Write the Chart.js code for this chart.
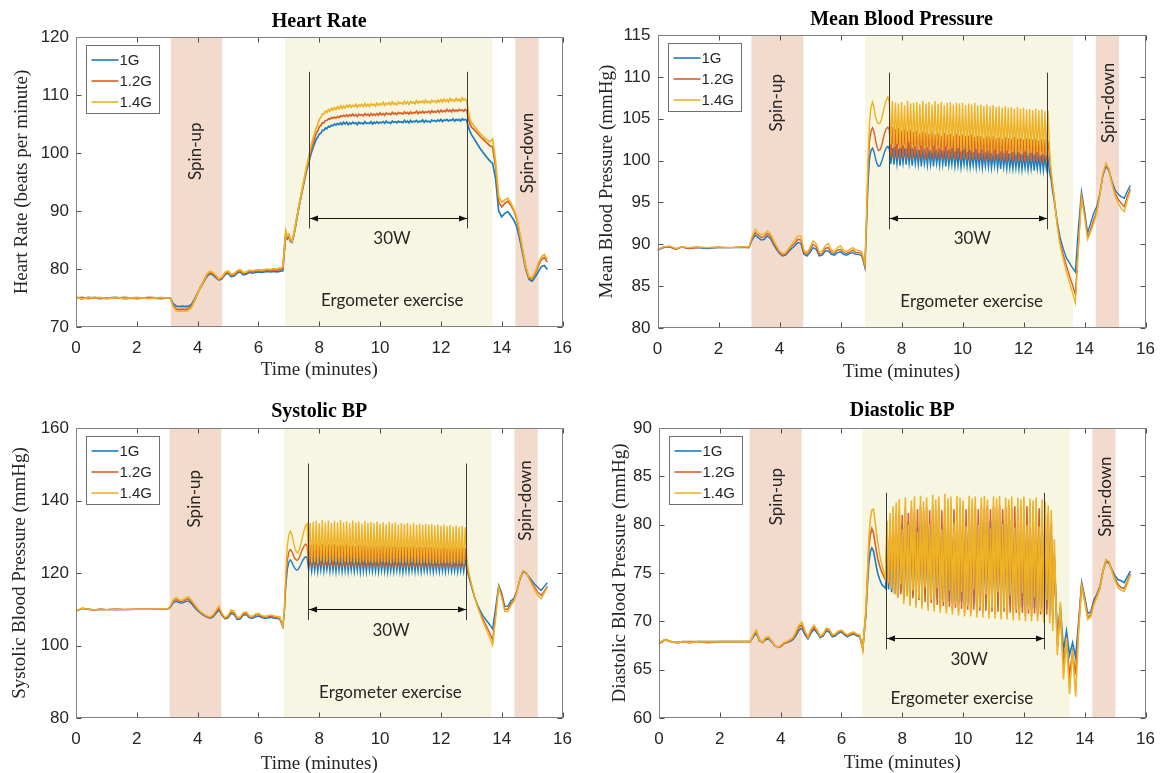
<!DOCTYPE html>
<html><head><meta charset="utf-8">
<script src="https://cdn.jsdelivr.net/npm/chart.js@4.4.1/dist/chart.umd.min.js"></script>
<style>
html,body{margin:0;padding:0;background:#fff;}
body{width:1166px;height:773px;position:relative;overflow:hidden;}
canvas{position:absolute;}
#warn{position:absolute;left:400px;top:380px;color:red;font:14px sans-serif;}
</style></head><body>
<canvas id="c1" width="583" height="386" style="left:0;top:0"></canvas>
<canvas id="c2" width="583" height="386" style="left:583px;top:0"></canvas>
<canvas id="c3" width="583" height="387" style="left:0;top:386px"></canvas>
<canvas id="c4" width="583" height="387" style="left:583px;top:386px"></canvas>
<div id="warn"></div>
<script>
// ---------- DATA ----------
const seriesLabels = ['1G','1.2G','1.4G'];
const xTicks = [0,2,4,6,8,10,12,14,16];
const hrTicks = [70,80,90,100,110,120];
const mbpTicks = [80,85,90,95,100,105,110,115];
const sbpTicks = [80,100,120,140,160];
const dbpTicks = [60,65,70,75,80,85,90];

const time = [
0,0.2,0.4,0.6,0.8,1,1.3,1.6,2,2.4,2.8,3,
3.1,3.2,3.3,3.4,3.5,3.6,3.7,3.8,3.9,4,4.1,4.2,4.3,4.4,4.5,4.6,4.7,4.8,4.9,5,5.1,5.2,5.3,5.4,5.5,5.6,5.7,5.8,5.9,6,6.1,6.2,6.3,6.4,6.5,6.6,6.7,6.8,
6.85,6.9,6.95,7,7.05,7.1,7.15,7.2,7.25,7.3,7.35,7.4,7.45,7.5,7.55,7.6,7.65,7.7,7.75,7.8,
7.85,7.9,7.95,8,8.05,8.1,8.15,8.2,8.25,8.3,8.35,8.4,8.45,8.5,8.55,8.6,8.65,8.7,8.75,8.8,
8.85,8.9,8.95,9,9.05,9.1,9.15,9.2,9.25,9.3,9.35,9.4,9.45,9.5,9.55,9.6,9.65,9.7,9.75,9.8,
9.85,9.9,9.95,10,10.05,10.1,10.15,10.2,10.25,10.3,10.35,10.4,10.45,10.5,10.55,10.6,10.65,10.7,10.75,10.8,
10.85,10.9,10.95,11,11.05,11.1,11.15,11.2,11.25,11.3,11.35,11.4,11.45,11.5,11.55,11.6,11.65,11.7,11.75,11.8,
11.85,11.9,11.95,12,12.05,12.1,12.15,12.2,12.25,12.3,12.35,12.4,12.45,12.5,12.55,12.6,12.65,12.7,12.75,12.8,
12.85,12.9,12.95,13,
13.1,13.2,13.3,13.4,13.5,13.6,13.7,13.8,13.9,14,14.1,14.2,14.3,14.4,14.5,14.6,14.7,14.8,14.9,15,15.1,15.2,15.3,15.4,15.5
];

const hr1 = [
75.1,74.9,75.1,75.0,74.9,75.0,75.1,74.9,75.0,75.0,74.9,75.0,
75.0,74.0,73.6,73.5,73.6,73.5,73.6,73.9,74.8,75.9,76.9,77.8,78.7,79.2,79.0,78.5,78.1,78.3,79.0,79.3,78.7,78.8,79.3,79.5,79.0,79.1,79.4,79.3,79.4,79.5,79.4,79.5,79.6,79.5,79.6,79.5,79.6,79.7,
83.0,86.0,85.2,85.6,84.8,84.6,85.5,86.8,88.3,89.8,91.2,92.5,93.8,95.0,96.2,97.3,98.3,99.3,100.2,101.0,
101.7,102.4,102.7,103.3,103.4,103.9,103.9,104.3,104.2,104.6,104.5,104.8,104.7,105.0,104.8,105.1,104.9,105.2,104.9,105.3,
105.0,105.3,104.9,105.2,105.0,105.3,105.1,105.2,104.9,105.3,105.1,105.2,105.0,105.4,105.1,105.2,105.1,105.4,105.0,105.3,
105.1,105.4,105.1,105.3,105.2,105.4,105.1,105.5,105.2,105.3,105.1,105.5,105.3,105.4,105.2,105.5,105.3,105.4,105.2,105.6,
105.3,105.5,105.2,105.6,105.3,105.5,105.4,105.6,105.3,105.5,105.4,105.7,105.3,105.6,105.4,105.5,105.3,105.7,105.5,105.6,
105.4,105.7,105.5,105.8,105.4,105.7,105.6,105.8,105.5,105.7,105.6,105.9,105.5,105.8,105.6,105.8,105.5,105.9,105.7,105.8,
105.6,104.5,103.8,103.2,
102.4,101.5,100.7,100.0,99.3,98.7,98.2,95.5,90.0,89.0,89.6,89.9,89.2,88.4,87.2,85.0,82.3,79.8,78.2,77.9,78.6,79.5,80.4,80.6,79.9
];
const hr12 = [
75.0,75.1,74.9,75.1,75.0,74.9,75.0,75.1,74.9,75.1,75.0,75.0,
75.0,73.7,73.1,73.0,73.1,73.0,73.2,73.6,74.6,75.8,76.9,77.9,78.9,79.4,79.2,78.7,78.2,78.5,79.2,79.5,78.9,79.0,79.5,79.7,79.2,79.3,79.6,79.5,79.6,79.7,79.6,79.7,79.8,79.7,79.8,79.8,79.9,80.0,
83.2,86.3,85.4,85.8,85.0,84.7,85.6,86.9,88.4,89.9,91.3,92.6,93.9,95.2,96.5,97.7,98.8,99.9,100.9,101.8,
102.6,103.4,103.8,104.5,104.7,105.2,105.2,105.6,105.6,105.9,105.8,106.1,106.0,106.2,106.0,106.3,106.1,106.4,106.3,106.5,
106.3,106.6,106.3,106.6,106.4,106.7,106.4,106.6,106.3,106.7,106.5,106.6,106.4,106.8,106.5,106.7,106.4,106.8,106.5,106.7,
106.5,106.8,106.5,106.9,106.6,106.8,106.5,106.9,106.7,106.8,106.6,107.0,106.7,106.9,106.6,107.0,106.8,106.9,106.7,107.1,
106.8,107.0,106.7,107.1,106.8,107.0,106.9,107.2,106.8,107.1,106.9,107.2,106.9,107.1,107.0,107.2,106.9,107.3,107.0,107.2,
107.0,107.3,107.0,107.4,107.1,107.3,107.1,107.5,107.2,107.4,107.1,107.5,107.2,107.4,107.2,107.5,107.3,107.4,107.2,107.5,
107.3,106.0,105.1,104.5,
104.0,103.4,102.8,102.3,101.8,101.3,101.0,97.5,91.5,90.7,91.3,91.7,91.0,90.0,88.5,85.8,82.8,80.0,78.4,78.3,79.2,80.5,81.6,82.0,81.2
];
const hr14 = [
75.2,74.8,75.1,75.0,75.1,74.9,75.1,74.9,75.1,74.9,75.1,75.0,
75.0,73.5,72.8,72.7,72.8,72.7,72.9,73.4,74.5,75.8,77.0,78.0,79.1,79.6,79.4,78.9,78.3,78.6,79.4,79.7,79.1,79.2,79.7,79.9,79.4,79.5,79.8,79.7,79.8,79.9,79.8,79.9,80.0,79.9,80.1,80.0,80.2,80.3,
83.5,86.6,85.6,86.0,85.1,84.8,85.7,87.0,88.5,90.0,91.4,92.8,94.1,95.5,96.8,98.1,99.3,100.5,101.6,102.6,
103.5,104.4,104.9,105.8,106.1,106.7,106.7,107.2,107.0,107.5,107.2,107.7,107.4,107.8,107.5,108.0,107.6,108.1,107.7,108.1,
107.8,108.2,107.9,108.3,107.9,108.2,108.0,108.4,107.9,108.3,108.1,108.4,108.0,108.5,108.1,108.4,108.0,108.5,108.2,108.4,
108.1,108.6,108.2,108.5,108.3,108.7,108.2,108.6,108.4,108.7,108.3,108.8,108.4,108.6,108.3,108.8,108.5,108.7,108.4,108.9,
108.5,108.8,108.4,108.9,108.6,108.8,108.5,109.0,108.6,108.9,108.7,109.0,108.6,109.1,108.7,108.9,108.6,109.1,108.8,109.0,
108.7,109.1,108.8,109.2,108.8,109.3,108.9,109.2,108.8,109.4,109.0,109.2,108.9,109.4,109.0,109.3,108.9,109.5,109.1,109.3,
109.0,107.3,106.0,105.3,
104.6,103.9,103.3,102.8,102.3,101.9,102.4,98.5,92.5,91.5,91.9,92.2,91.4,90.3,88.8,86.0,83.0,80.2,78.6,78.5,79.5,80.9,82.1,82.5,81.7
];

const mbp1 = [
89.3,89.6,89.7,89.4,89.7,89.5,89.6,89.5,89.6,89.6,89.6,89.6,
90.5,91.1,90.8,90.5,90.6,91.0,90.7,90.0,89.4,88.9,88.6,88.7,89.1,89.5,89.8,90.2,90.1,88.8,88.6,89.0,89.6,89.4,88.6,88.7,89.2,89.2,88.8,88.7,89.0,89.1,88.8,88.7,88.9,89.0,88.8,88.8,88.6,87.2,
92.0,97.0,100.2,101.2,101.5,101.0,100.2,99.6,99.3,99.4,99.9,100.5,101.1,101.5,101.7,101.4,99.6,101.5,99.5,101.3,
99.6,101.4,99.4,101.2,99.7,101.5,99.5,101.3,99.6,101.2,99.4,101.4,99.6,101.1,99.5,101.3,99.3,101.2,99.6,101.0,
99.4,101.3,99.5,101.1,99.3,101.2,99.6,101.0,99.4,101.3,99.5,101.1,99.3,101.2,99.4,100.9,99.5,101.2,99.3,101.0,
99.4,101.1,99.2,100.9,99.5,101.2,99.3,101.0,99.2,100.8,99.4,101.1,99.2,100.9,99.3,101.0,99.1,100.8,99.3,101.0,
99.2,100.9,99.1,100.7,99.3,101.0,99.1,100.8,99.0,100.9,99.2,100.7,99.0,100.9,99.1,100.6,99.0,100.8,99.1,100.7,
99.0,100.8,98.9,100.6,99.1,100.7,98.9,100.5,99.0,100.7,98.8,100.6,99.0,100.5,98.9,100.7,98.8,100.5,99.0,100.4,
98.6,97.8,96.4,95.3,
92.8,90.8,89.5,88.4,87.8,87.2,86.7,92.0,96.3,94.0,91.4,92.5,93.7,94.5,96.0,98.2,99.3,98.8,97.5,96.5,96.0,95.7,95.5,96.3,97.0
];
const mbp12 = [
89.3,89.7,89.7,89.4,89.7,89.5,89.6,89.6,89.6,89.6,89.7,89.6,
90.7,91.4,91.1,90.8,90.9,91.3,91.0,90.2,89.6,89.0,88.7,88.8,89.3,89.8,90.1,90.6,90.5,89.0,88.8,89.3,90.0,89.7,88.8,88.9,89.5,89.6,89.0,88.9,89.3,89.4,89.0,88.9,89.1,89.3,89.0,89.0,88.9,87.4,
92.5,98.5,102.3,103.5,103.9,103.4,102.4,101.6,101.2,101.3,101.8,102.6,103.3,103.8,104.0,103.7,100.4,104.0,100.2,103.8,
100.3,103.9,100.1,103.6,100.4,103.8,100.2,103.5,100.3,103.7,100.1,103.4,100.4,103.6,100.2,103.3,100.3,103.5,100.1,103.4,
100.2,103.2,100.4,103.4,100.1,103.1,100.3,103.3,100.2,103.0,100.1,103.3,100.3,103.1,100.0,103.2,100.2,102.9,100.1,103.2,
100.2,103.0,100.0,103.1,100.2,102.9,100.1,103.0,99.9,103.1,100.1,102.8,100.2,103.0,100.0,102.9,100.1,102.7,99.9,103.0,
100.1,102.8,99.9,102.9,100.0,102.7,100.1,102.8,99.9,102.6,100.0,102.8,99.8,102.7,100.0,102.6,99.9,102.8,99.8,102.6,
100.0,102.7,99.8,102.5,99.9,102.7,99.8,102.6,100.0,102.5,99.8,102.6,99.9,102.4,99.8,102.6,99.7,102.5,99.9,102.4,
100.5,98.5,97.0,95.8,
92.5,90.2,88.8,87.5,86.3,85.2,84.0,90.0,95.8,93.6,90.8,91.8,92.9,94.0,95.9,98.3,99.5,98.9,97.3,96.1,95.4,94.9,94.5,95.7,96.6
];
const mbp14 = [
89.4,89.7,89.8,89.5,89.7,89.6,89.7,89.6,89.7,89.6,89.7,89.7,
90.9,91.8,91.4,91.1,91.2,91.6,91.3,90.5,89.8,89.2,88.9,89.0,89.5,90.0,90.5,91.0,91.0,89.3,89.0,89.6,90.4,90.1,89.1,89.2,89.8,90.1,89.3,89.1,89.6,89.8,89.3,89.1,89.4,89.6,89.3,89.3,89.1,87.6,
93.0,100.0,104.5,106.4,107.0,106.3,105.2,104.6,104.4,104.5,105.0,105.8,106.6,107.2,107.6,107.0,101.9,107.1,101.6,106.9,
102.0,106.8,101.5,107.0,101.8,106.6,101.4,107.1,102.2,106.8,101.5,106.9,101.7,107.0,101.3,106.7,101.8,107.1,101.4,106.8,
101.6,107.0,101.2,106.7,101.8,107.1,101.3,106.8,101.5,107.0,101.2,106.6,101.7,106.9,101.3,107.0,101.5,106.7,101.1,106.9,
101.5,106.8,101.1,106.9,101.4,106.6,101.0,106.8,101.3,106.7,101.0,106.9,101.4,106.6,100.9,106.7,101.3,106.5,101.0,106.7,
101.2,106.5,100.9,106.6,101.3,106.4,100.8,106.5,101.1,106.3,100.9,106.5,101.2,106.3,100.8,106.4,101.0,106.2,100.7,106.4,
101.0,106.2,100.7,106.3,101.1,106.1,100.6,106.2,100.9,106.0,100.7,106.2,101.0,106.0,100.6,106.1,100.8,105.9,100.6,106.0,
101.5,99.0,97.3,95.8,
92.3,89.8,88.3,86.8,85.5,84.3,83.0,89.5,95.6,93.3,90.6,91.5,92.5,93.7,95.8,98.4,99.7,99.0,97.2,95.8,94.9,94.3,93.9,95.2,96.4
];

const sbp1 = [
109.5,110.2,110.0,109.8,110.0,109.9,110.0,109.9,110.0,110.0,110.0,110.0,
110.5,111.8,112.2,111.8,111.7,112.1,112.3,111.5,110.5,109.6,108.9,108.3,107.8,107.5,107.8,108.8,109.8,108.3,107.3,107.6,108.8,108.5,107.2,107.3,108.3,108.5,107.6,107.5,107.9,108.1,107.7,107.5,107.6,107.8,107.6,107.4,107.3,105.2,
109.0,116.5,121.0,123.0,123.6,123.0,122.0,121.2,120.8,120.9,121.6,122.5,123.4,124.0,124.5,124.2,120.8,124.4,120.5,124.3,
120.7,124.5,120.4,124.2,120.8,124.6,120.5,124.3,120.9,124.1,120.4,124.5,120.6,124.2,120.3,124.4,120.7,124.1,120.4,124.3,
120.6,124.2,120.3,124.4,120.7,124.0,120.4,124.3,120.6,124.1,120.2,124.4,120.5,124.0,120.3,124.2,120.6,123.9,120.4,124.2,
120.5,124.0,120.3,124.3,120.6,123.9,120.4,124.1,120.2,124.0,120.5,123.8,120.3,124.2,120.6,123.9,120.4,124.0,120.2,123.8,
120.5,124.1,120.3,123.9,120.6,124.0,120.4,123.8,120.5,124.1,120.3,123.9,120.6,123.7,120.4,124.0,120.5,123.8,120.3,123.9,
120.6,123.8,120.4,124.0,120.5,123.7,120.3,123.9,120.6,123.8,120.4,123.6,120.5,123.9,120.3,123.7,120.6,123.8,120.4,123.6,
121.0,119.5,118.0,116.5,
113.5,111.3,109.5,108.0,106.9,105.8,104.6,110.5,116.6,114.5,110.8,110.8,112.3,113.0,115.0,118.3,120.4,120.0,118.9,117.8,116.8,115.9,115.2,116.3,117.3
];
const sbp12 = [
109.4,110.3,110.0,109.8,110.0,109.9,110.0,109.9,110.0,110.0,110.0,110.0,
110.7,112.3,112.7,112.2,112.1,112.6,112.9,112.0,110.9,109.9,109.1,108.5,108.0,107.7,108.1,109.2,110.3,108.6,107.5,107.9,109.3,109.0,107.5,107.6,108.7,108.9,107.9,107.8,108.3,108.5,108.0,107.8,107.9,108.1,107.9,107.7,107.6,105.3,
109.2,118.0,123.5,125.8,126.5,125.9,124.8,124.0,123.5,123.6,124.4,125.5,126.6,127.4,128.0,127.6,121.8,127.8,121.5,127.9,
121.9,128.1,121.6,127.7,122.0,128.0,121.7,127.6,121.9,127.9,121.5,127.7,121.8,128.0,121.6,127.5,121.9,127.8,121.5,127.6,
121.8,127.9,121.5,127.5,121.9,127.7,121.6,127.4,121.8,127.8,121.5,127.5,121.7,127.6,121.4,127.3,121.8,127.6,121.5,127.4,
121.7,127.5,121.4,127.3,121.8,127.6,121.5,127.2,121.7,127.5,121.4,127.3,121.6,127.4,121.3,127.1,121.7,127.4,121.5,127.2,
121.6,127.3,121.4,127.1,121.7,127.4,121.5,127.0,121.6,127.3,121.3,127.1,121.6,127.2,121.4,127.0,121.7,127.2,121.4,127.0,
121.6,127.1,121.3,126.9,121.6,127.2,121.4,126.9,121.5,127.0,121.3,126.8,121.6,127.1,121.4,126.8,121.5,127.0,121.3,126.8,
122.5,120.0,118.3,116.8,
113.5,111.0,108.8,107.0,105.3,103.5,101.5,108.5,116.2,113.8,110.0,110.0,111.6,112.6,114.8,118.4,120.5,120.1,118.6,117.2,115.8,114.6,113.8,115.0,116.4
];
const sbp14 = [
109.5,110.3,110.1,109.8,110.1,109.9,110.0,110.0,110.0,110.0,110.1,110.0,
110.9,112.7,113.2,112.6,112.5,113.1,113.5,112.5,111.3,110.2,109.3,108.7,108.2,107.9,108.4,109.6,110.9,108.9,107.7,108.3,109.9,109.5,107.8,107.9,109.1,109.3,108.2,108.0,108.7,108.9,108.3,108.1,108.2,108.4,108.2,108.0,107.9,105.4,
109.5,120.0,127.5,130.5,131.5,130.6,128.5,126.8,125.8,125.6,126.6,128.2,130.0,131.7,133.0,133.6,123.2,133.8,122.8,134.1,
123.0,134.4,122.6,133.7,123.3,134.6,122.8,133.9,123.1,134.5,122.7,133.8,123.2,134.4,122.9,134.0,123.0,134.6,122.7,133.9,
123.1,134.3,122.8,133.8,123.2,134.5,122.7,133.9,123.0,134.2,122.8,133.6,123.1,134.3,122.6,133.8,123.0,134.1,122.7,133.7,
123.0,134.2,122.7,133.6,123.1,134.0,122.8,133.5,122.9,134.1,122.6,133.7,123.0,133.9,122.7,133.4,122.9,133.8,122.6,133.5,
122.9,133.8,122.6,133.4,123.0,133.7,122.7,133.3,122.8,133.6,122.5,133.2,122.9,133.6,122.6,133.3,122.8,133.5,122.5,133.1,
122.8,133.4,122.5,133.0,122.8,133.3,122.6,132.9,122.7,133.2,122.4,132.8,122.8,133.1,122.5,132.7,122.7,133.0,122.4,132.6,
124.0,121.0,119.0,117.2,
113.7,110.9,108.4,106.2,104.3,102.3,100.0,107.5,116.0,113.2,109.4,109.3,111.0,112.2,114.6,118.5,120.7,120.2,118.4,116.7,115.0,113.7,112.9,114.5,116.0
];

const dbp1 = [
67.7,68.1,67.9,67.8,67.9,67.8,67.9,67.9,67.9,67.9,67.9,67.9,
68.4,68.8,68.0,67.8,68.1,68.2,67.9,67.5,67.3,67.4,67.7,67.8,67.9,68.1,68.5,69.1,69.3,68.6,68.2,68.8,69.2,68.8,68.3,68.5,69.0,68.9,68.4,68.5,68.8,68.9,68.6,68.4,68.6,68.7,68.5,68.4,67.2,70.5,
73.5,76.0,77.2,77.6,77.3,76.5,75.6,74.9,74.4,74.0,73.7,73.6,73.4,77.5,73.3,78.5,73.0,79.0,72.8,79.5,
72.7,79.8,73.0,80.2,72.5,79.5,72.9,80.3,72.4,79.9,72.7,80.4,72.3,79.7,72.6,80.2,72.2,80.0,72.5,80.4,
72.1,79.8,72.4,80.5,72.0,80.1,72.3,80.4,71.9,79.9,72.2,80.5,71.8,80.2,72.1,80.4,71.8,80.0,72.0,80.5,
71.7,80.2,72.0,80.4,71.6,80.1,71.9,80.5,71.6,80.0,71.8,80.4,71.5,80.2,71.8,80.5,71.5,80.1,71.7,80.3,
71.5,80.4,71.7,80.1,71.4,80.5,71.6,80.2,71.4,80.4,71.6,80.0,71.3,80.3,71.6,80.5,71.3,80.1,71.5,80.3,
71.3,80.4,71.5,80.0,71.2,80.3,71.5,80.5,71.2,80.1,71.4,80.3,71.1,80.4,71.4,80.0,71.1,80.2,71.3,79.8,
71.2,79.0,70.5,76.5,
68.5,71.5,67.0,69.0,66.5,67.8,66.3,70.0,74.0,72.5,70.8,71.0,72.2,72.8,73.6,75.2,76.2,76.0,75.3,74.7,74.3,74.2,74.0,74.6,75.2
];
const dbp12 = [
67.7,68.1,67.9,67.8,67.9,67.9,67.9,67.8,67.9,67.9,67.9,67.9,
68.5,69.0,68.1,67.8,68.2,68.3,68.0,67.5,67.3,67.4,67.7,67.8,68.0,68.2,68.7,69.4,69.6,68.8,68.3,69.0,69.4,69.0,68.4,68.6,69.2,69.1,68.5,68.6,68.9,69.0,68.7,68.5,68.7,68.8,68.6,68.5,67.2,70.7,
74.0,77.5,79.0,79.6,79.2,78.2,77.2,76.4,75.8,75.3,74.9,74.6,74.3,79.0,73.8,80.2,73.3,80.8,72.9,81.2,
72.5,81.5,72.8,81.0,72.2,81.7,72.6,81.2,72.0,81.8,72.4,81.3,71.8,81.6,72.2,81.9,71.7,81.4,72.0,81.8,
71.5,81.5,71.9,81.9,71.4,81.6,71.7,82.0,71.3,81.5,71.6,81.9,71.2,81.7,71.5,82.0,71.1,81.6,71.4,81.9,
71.0,81.7,71.3,82.0,70.9,81.6,71.2,81.9,70.9,81.7,71.2,82.0,70.8,81.6,71.1,81.9,70.8,81.7,71.1,82.0,
70.8,81.6,71.0,81.9,70.7,81.7,71.0,82.0,70.7,81.6,71.0,81.8,70.6,82.0,70.9,81.7,70.6,81.9,70.9,81.6,
70.6,81.8,70.9,81.5,70.5,81.9,70.8,81.6,70.5,81.8,70.8,81.5,70.5,81.7,70.7,81.4,70.4,81.6,70.7,81.2,
70.5,80.2,69.8,77.0,
67.5,71.0,65.5,68.0,64.5,66.8,64.5,69.5,73.8,72.2,70.4,70.7,71.9,72.6,73.5,75.2,76.3,76.1,75.2,74.4,73.8,73.5,73.4,74.1,74.9
];
const dbp14 = [
67.8,68.1,67.9,67.8,67.9,67.8,67.9,67.9,67.9,67.9,67.9,67.9,
68.6,69.1,68.1,67.8,68.3,68.4,68.0,67.5,67.3,67.5,67.8,67.9,68.1,68.3,68.9,69.6,69.9,69.0,68.4,69.2,69.6,69.1,68.5,68.7,69.3,69.2,68.6,68.7,69.0,69.1,68.8,68.6,68.8,68.9,68.7,68.6,67.0,71.0,
74.5,78.5,80.6,81.5,81.6,80.5,79.2,78.0,77.0,76.2,75.6,75.0,74.5,80.4,74.0,81.2,73.4,81.9,72.8,82.3,
72.4,82.6,73.8,79.5,71.8,82.8,72.6,80.0,71.6,82.5,73.2,82.9,71.4,79.3,72.4,83.0,71.3,82.4,73.5,82.8,
71.1,80.0,72.2,83.1,71.0,82.6,73.4,82.9,70.9,79.5,72.0,83.2,70.8,82.7,73.2,82.9,70.7,80.2,71.8,83.0,
70.6,82.8,73.0,82.5,70.5,79.8,71.6,83.0,70.5,82.7,73.3,82.9,70.4,80.0,71.5,82.8,70.4,83.0,72.8,82.6,
70.3,79.6,71.4,82.9,70.3,82.7,73.0,83.0,70.2,80.1,71.3,82.8,70.2,82.6,72.7,82.9,70.1,79.7,71.2,82.8,
70.1,82.6,72.9,82.9,70.0,80.0,71.2,82.7,70.0,82.5,72.5,82.8,70.0,79.8,71.0,82.6,69.9,82.4,72.2,82.0,
69.8,81.5,69.0,78.5,
66.5,72.0,64.0,68.3,62.5,67.0,62.2,69.0,73.6,72.0,70.2,70.5,71.7,72.5,73.4,75.2,76.4,76.2,75.1,74.2,73.5,73.2,73.1,73.9,74.8
];

// ---------- STYLE ----------
const COLORS = ['#1a7cc1', '#dc5f24', '#edb225'];
const PINK = '#f2dacd', CREAM = '#f7f6e2', INK = '#262626';
const SANS = '"Liberation Sans", Arial, sans-serif';
const SERIF = '"Liberation Serif", "Times New Roman", serif';
const NOTE = 'Lato, "Open Sans", sans-serif';

const warn = [];
[hr1,hr12,hr14,mbp1,mbp12,mbp14,sbp1,sbp12,sbp14,dbp1,dbp12,dbp14].forEach((s,i)=>{
  if (s.length !== time.length) warn.push('series '+i+' len '+s.length+' vs '+time.length);
});
document.getElementById('warn').textContent = warn.join(' | ');

function decoPlugin(cfg) {
  return {
    id: 'deco',
    beforeDatasetsDraw(chart) {
      const {ctx, chartArea: a, scales: {x}} = chart;
      ctx.save();
      ctx.beginPath(); ctx.rect(a.left, a.top, a.right - a.left, a.bottom - a.top); ctx.clip();
      cfg.bands.forEach(b => {
        const x0 = x.getPixelForValue(b[0]), x1 = x.getPixelForValue(b[1]);
        ctx.fillStyle = b[2];
        ctx.fillRect(x0, a.top, x1 - x0, a.bottom - a.top);
      });
      ctx.restore();
    },
    afterDatasetsDraw(chart) {
      const {ctx, chartArea: a, scales: {x, y}} = chart;
      const X = v => x.getPixelForValue(v), Y = v => y.getPixelForValue(v);
      ctx.save();
      // 30W markers
      ctx.strokeStyle = '#3a3a3a'; ctx.lineWidth = 1;
      cfg.span.forEach(t => {
        const px = Math.round(X(t)) + 0.5;
        ctx.beginPath(); ctx.moveTo(px, Y(cfg.spanY[0])); ctx.lineTo(px, Y(cfg.spanY[1])); ctx.stroke();
      });
      const ay = Math.round(Y(cfg.arrowY)) + 0.5;
      const ax0 = Math.round(X(cfg.span[0])) + 1, ax1 = Math.round(X(cfg.span[1]));
      ctx.strokeStyle = '#111';
      ctx.beginPath(); ctx.moveTo(ax0, ay); ctx.lineTo(ax1, ay); ctx.stroke();
      ctx.fillStyle = '#111';
      ctx.beginPath(); ctx.moveTo(ax0, ay); ctx.lineTo(ax0 + 8, ay - 3); ctx.lineTo(ax0 + 8, ay + 3); ctx.closePath(); ctx.fill();
      ctx.beginPath(); ctx.moveTo(ax1, ay); ctx.lineTo(ax1 - 8, ay - 3); ctx.lineTo(ax1 - 8, ay + 3); ctx.closePath(); ctx.fill();
      // notes
      ctx.fillStyle = INK; ctx.font = '17px ' + NOTE; ctx.textAlign = 'center'; ctx.textBaseline = 'middle';
      ctx.fillText('30W', X(cfg.w[0]), Y(cfg.w[1]));
      ctx.fillText('Ergometer exercise', X(cfg.erg[0]), Y(cfg.erg[1]));
      [[cfg.up, 'Spin-up'], [cfg.down, 'Spin-down']].forEach(([p, t]) => {
        ctx.save(); ctx.translate(X(p[0]), Y(p[1])); ctx.rotate(-Math.PI / 2); ctx.fillText(t, 0, 0); ctx.restore();
      });
      // axes box & inner ticks
      const L = Math.round(a.left) + 0.5, R = Math.round(a.right) - 0.5, T = Math.round(a.top) + 0.5, B = Math.round(a.bottom) - 0.5;
      ctx.strokeStyle = '#4d4d4d'; ctx.lineWidth = 1;
      ctx.beginPath();
      xTicks.forEach(v => { const px = Math.round(X(v)) + 0.5; ctx.moveTo(px, B); ctx.lineTo(px, B - 5); ctx.moveTo(px, T); ctx.lineTo(px, T + 5); });
      cfg.yTicks.forEach(v => { const py = Math.round(Y(v)) + 0.5; ctx.moveTo(L, py); ctx.lineTo(L + 5, py); ctx.moveTo(R, py); ctx.lineTo(R - 5, py); });
      ctx.stroke();
      ctx.strokeStyle = '#808080';
      ctx.strokeRect(L, T, R - L, B - T);
      // legend
      const lx = Math.round(a.left + 10) + 0.5, ly = Math.round(a.top + 8) + 0.5;
      ctx.fillStyle = '#fff'; ctx.fillRect(lx, ly, 73, 68);
      ctx.strokeStyle = '#707070'; ctx.lineWidth = 1; ctx.strokeRect(lx, ly, 73, 68);
      ctx.font = '15px ' + SANS; ctx.textAlign = 'left'; ctx.textBaseline = 'middle';
      seriesLabels.forEach((lab, i) => {
        const ry = Math.round(ly + 14 + i * 21.3);
        ctx.strokeStyle = COLORS[i]; ctx.lineWidth = 1.6;
        ctx.beginPath(); ctx.moveTo(lx + 5, ry); ctx.lineTo(lx + 32, ry); ctx.stroke();
        ctx.fillStyle = INK; ctx.fillText(lab, lx + 33, ry + 1);
      });
      // titles
      ctx.fillStyle = '#000'; ctx.textAlign = 'center'; ctx.textBaseline = 'middle';
      ctx.font = 'bold 20px ' + SERIF;
      ctx.fillText(cfg.title, (a.left + a.right) / 2, cfg.titleY);
      ctx.fillStyle = INK;
      ctx.font = '19px ' + SERIF;
      ctx.fillText('Time (minutes)', (a.left + a.right) / 2, cfg.xTitleY);
      ctx.save(); ctx.translate(cfg.yTitleX, (a.top + a.bottom) / 2); ctx.rotate(-Math.PI / 2);
      ctx.fillText(cfg.yTitle, 0, 0); ctx.restore();
      ctx.restore();
    }
  };
}

function makeChart(id, cfg) {
  const canvas = document.getElementById(id);
  const W = canvas.width, H = canvas.height, A = cfg.area;
  return new Chart(canvas, {
    type: 'line',
    data: {
      datasets: cfg.series.map((s, i) => ({
        label: seriesLabels[i],
        data: time.map((t, j) => ({x: t, y: s[j]})),
        borderColor: COLORS[i], backgroundColor: COLORS[i],
        borderWidth: cfg.lw, pointRadius: 0, tension: 0, fill: false,
        order: 2 - i
      }))
    },
    options: {
      responsive: false, animation: false, events: [],
      layout: {padding: {left: 0, top: A[1], right: W - A[2], bottom: 0}},
      plugins: {legend: {display: false}, tooltip: {enabled: false}, title: {display: false}},
      scales: {
        x: {
          type: 'linear', min: 0, max: 16,
          afterBuildTicks: s => { s.ticks = xTicks.map(v => ({value: v})); },
          afterFit: s => { s.height = H - A[3]; },
          grid: {display: false, drawTicks: false}, border: {display: false},
          ticks: {font: {family: SANS, size: 17}, color: INK, padding: 11, maxRotation: 0, autoSkip: false}
        },
        y: {
          type: 'linear', min: cfg.yTicks[0], max: cfg.yTicks[cfg.yTicks.length - 1],
          afterBuildTicks: s => { s.ticks = cfg.yTicks.map(v => ({value: v})); },
          afterFit: s => { s.width = A[0]; },
          grid: {display: false, drawTicks: false}, border: {display: false},
          ticks: {font: {family: SANS, size: 17}, color: INK, padding: 7, autoSkip: false}
        }
      }
    },
    plugins: [decoPlugin(cfg)]
  });
}

makeChart('c1', {
  title: 'Heart Rate', yTitle: 'Heart Rate (beats per minute)',
  series: [hr1, hr12, hr14], yTicks: hrTicks, lw: 1.7,
  area: [76, 37, 569, 327], titleY: 22, xTitleY: 370, yTitleX: 22,
  bands: [[3.12, 4.81, PINK], [6.87, 13.70, CREAM], [14.45, 15.21, PINK]],
  span: [7.66, 12.86], spanY: [114, 87], arrowY: 88.86,
  w: [10.39, 85.3], erg: [10.4, 74.6], up: [3.93, 100.3], down: [14.84, 100]
});
makeChart('c2', {
  title: 'Mean Blood Pressure', yTitle: 'Mean Blood Pressure (mmHg)',
  series: [mbp1, mbp12, mbp14], yTicks: mbpTicks, lw: 1.4,
  area: [74.5, 35, 568, 328], titleY: 20, xTitleY: 372, yTitleX: 24,
  bands: [[3.08, 4.78, PINK], [6.80, 13.62, CREAM], [14.37, 15.13, PINK]],
  span: [7.58, 12.76], spanY: [110.5, 91.8], arrowY: 93.1,
  w: [10.32, 90.7], erg: [10.3, 83.2], up: [3.89, 106.9], down: [14.79, 106.9]
});
makeChart('c3', {
  title: 'Systolic BP', yTitle: 'Systolic Blood Pressure (mmHg)',
  series: [sbp1, sbp12, sbp14], yTicks: sbpTicks, lw: 1.4,
  area: [76, 42, 569, 332], titleY: 26, xTitleY: 378, yTitleX: 20.5,
  bands: [[3.08, 4.78, PINK], [6.83, 13.66, CREAM], [14.42, 15.18, PINK]],
  span: [7.62, 12.82], spanY: [150.2, 107], arrowY: 110.2,
  w: [10.36, 104], erg: [10.34, 87], up: [3.89, 140.5], down: [14.79, 140]
});
makeChart('c4', {
  title: 'Diastolic BP', yTitle: 'Diastolic Blood Pressure (mmHg)',
  series: [dbp1, dbp12, dbp14], yTicks: dbpTicks, lw: 1.6,
  area: [76, 42, 570, 332], titleY: 25, xTitleY: 377, yTitleX: 37,
  bands: [[2.98, 4.69, PINK], [6.67, 13.50, CREAM], [14.25, 15.01, PINK]],
  span: [7.46, 12.66], spanY: [83.3, 67.1], arrowY: 68.26,
  w: [10.2, 66.1], erg: [9.96, 62], up: [3.86, 82.9], down: [14.67, 82.9]
});
</script>
</body></html>
